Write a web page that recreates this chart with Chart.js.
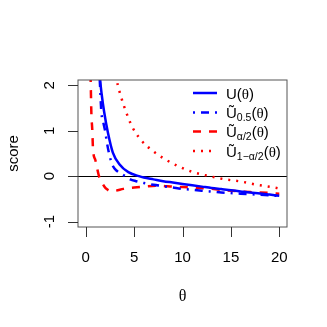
<!DOCTYPE html>
<html>
<head>
<meta charset="utf-8">
<script src="https://cdn.jsdelivr.net/npm/chart.js@4/dist/chart.umd.min.js"></script>
<style>
html,body{margin:0;padding:0;background:#fff;}
canvas{display:block;}
</style>
</head>
<body>
<canvas id="c" width="327" height="327"></canvas>
<script>
// ---- data ----
const thetaU    = [1.3, 1.48, 1.65, 1.9, 2.3, 2.8, 3.5, 4.4, 5.5, 6, 7, 8, 9, 10, 11, 12, 13, 14, 15, 16, 17, 18, 19, 20];
const scoreU    = [2.8, 2.15, 1.8, 1.42, 0.95, 0.52, 0.26, 0.09, 0.0, -0.03, -0.07, -0.11, -0.14, -0.17, -0.20, -0.23, -0.26, -0.285, -0.31, -0.335, -0.36, -0.38, -0.405, -0.43];

const thetaMed  = [1.2, 1.44, 1.61, 1.8, 2.0, 2.23, 2.5, 2.82, 3.2, 3.7, 4.1, 4.6, 5.2, 6, 7, 8, 9, 10, 11, 12, 13, 14, 16, 18, 20];
const scoreMed  = [2.8, 2.15, 1.42, 1.2, 1.0, 0.69, 0.42, 0.22, 0.12, 0.05, 0.0, -0.07, -0.11, -0.15, -0.19, -0.22, -0.25, -0.28, -0.30, -0.32, -0.34, -0.36, -0.385, -0.41, -0.435];

const thetaLow  = [0.45, 0.52, 0.58, 0.68, 0.75, 1.0, 1.17, 1.37, 1.6, 1.9, 2.2, 2.6, 3.1, 3.9, 5, 6, 7.6, 9, 11, 12.5, 14, 15.6, 17, 19, 20];
const scoreLow  = [2.6, 2.0, 1.4, 1.0, 0.6, 0.35, 0.18, 0.0, -0.11, -0.22, -0.29, -0.33, -0.32, -0.28, -0.25, -0.23, -0.21, -0.23, -0.25, -0.27, -0.30, -0.33, -0.35, -0.37, -0.385];

const thetaHigh = [3.0, 3.2, 3.65, 4.16, 4.8, 5.7, 6.9, 8.3, 9.75, 11.1, 12.8, 14.4, 16.1, 17.7, 19.2, 20];
const scoreHigh = [2.4, 2.12, 1.75, 1.42, 1.09, 0.80, 0.56, 0.36, 0.20, 0.09, 0.0, -0.07, -0.12, -0.19, -0.24, -0.27];

const xTicks = [0, 5, 10, 15, 20];
const yTicks = [-1, 0, 1, 2];
const xTickLabels = ["0", "5", "10", "15", "20"];
const yTickLabels = ["-1", "0", "1", "2"];

const BLUE = "#0000FF", RED = "#FF0000";
const LW = 2.5;

function pts(xs, ys) { return xs.map((x, i) => ({x: x, y: ys[i]})); }

const seriesStyles = [
  {color: BLUE, dash: []},
  {color: BLUE, dash: [2, 6, 8, 6]},
  {color: RED,  dash: [8, 8]},
  {color: RED,  dash: [2, 6]}
];

const legendItems = [
  {base: "U", sub: ""},
  {base: "Ũ", sub: "0.5"},
  {base: "Ũ", sub: "α/2"},
  {base: "Ũ", sub: "1−α/2"}
];

const SANS = "'Liberation Sans', Arial, sans-serif";
const SERIF = "'Liberation Serif', 'DejaVu Serif', serif";

const decor = {
  id: 'decor',
  beforeDatasetsDraw(chart) {
    const {ctx, chartArea: a, scales: {y}} = chart;
    ctx.save();
    ctx.strokeStyle = "#000";
    ctx.lineWidth = 1;
    const y0 = Math.round(y.getPixelForValue(0)) + 0.5;
    ctx.beginPath(); ctx.moveTo(a.left, y0); ctx.lineTo(a.right, y0); ctx.stroke();
    ctx.restore();
  },
  afterDraw(chart) {
    const {ctx, chartArea: a, scales: {x, y}} = chart;
    ctx.save();
    // box
    ctx.strokeStyle = "#555";
    ctx.lineWidth = 1;
    ctx.strokeRect(a.left, a.top, a.right - a.left, a.bottom - a.top);
    // ticks
    ctx.strokeStyle = "#333";
    ctx.beginPath();
    xTicks.forEach(v => { const px = Math.round(x.getPixelForValue(v)) + 0.5; ctx.moveTo(px, a.bottom); ctx.lineTo(px, a.bottom + 10); });
    yTicks.forEach(v => { const py = Math.round(y.getPixelForValue(v)) + 0.5; ctx.moveTo(a.left, py); ctx.lineTo(a.left - 10, py); });
    ctx.stroke();
    // tick labels
    ctx.fillStyle = "#000";
    ctx.font = "15px " + SANS;
    ctx.textAlign = "center";
    ctx.textBaseline = "middle";
    xTicks.forEach((v, i) => ctx.fillText(xTickLabels[i], x.getPixelForValue(v), a.bottom + 31));
    yTicks.forEach((v, i) => {
      ctx.save();
      ctx.translate(a.left - 28, y.getPixelForValue(v));
      ctx.rotate(-Math.PI / 2);
      ctx.fillText(yTickLabels[i], 0, 0);
      ctx.restore();
    });
    // axis titles
    ctx.save();
    ctx.translate(14, (a.top + a.bottom) / 2);
    ctx.rotate(-Math.PI / 2);
    ctx.fillText("score", 0, 0);
    ctx.restore();
    ctx.font = "16px " + SERIF;
    ctx.fillText("θ", (a.left + a.right) / 2, a.bottom + 70);

    // legend
    const rowY = [93, 112.5, 131.5, 151];
    const lx0 = 193, lx1 = 217, tx = 226;
    legendItems.forEach((it, i) => {
      const st = seriesStyles[i];
      ctx.strokeStyle = st.color;
      ctx.lineWidth = LW;
      ctx.setLineDash(st.dash);
      ctx.beginPath(); ctx.moveTo(lx0, rowY[i]); ctx.lineTo(lx1, rowY[i]); ctx.stroke();
      ctx.setLineDash([]);
      ctx.textAlign = "left";
      ctx.textBaseline = "alphabetic";
      const base = rowY[i] + 5.5;
      let cx = tx;
      ctx.font = "15px " + SANS;
      ctx.fillText(it.base, cx, base); cx += ctx.measureText(it.base).width;
      if (it.sub) {
        ctx.font = "10.5px " + SANS;
        ctx.fillText(it.sub, cx, base + 3); cx += ctx.measureText(it.sub).width;
      }
      ctx.font = "15px " + SANS;
      ctx.fillText("(", cx, base); cx += ctx.measureText("(").width;
      ctx.font = "15px " + SERIF;
      ctx.fillText("θ", cx, base); cx += ctx.measureText("θ").width;
      ctx.font = "15px " + SANS;
      ctx.fillText(")", cx, base);
    });
    ctx.restore();
  }
};

const datasets = [
  [thetaU, scoreU], [thetaMed, scoreMed], [thetaLow, scoreLow], [thetaHigh, scoreHigh]
].map((d, i) => ({
  data: pts(d[0], d[1]),
  borderColor: seriesStyles[i].color,
  borderDash: seriesStyles[i].dash,
  borderWidth: LW,
  borderCapStyle: 'butt',
  pointRadius: 0,
  showLine: true,
  fill: false,
  cubicInterpolationMode: 'monotone',
  clip: 0
}));

new Chart(document.getElementById('c'), {
  type: 'scatter',
  data: {datasets: datasets},
  options: {
    responsive: false,
    animation: false,
    devicePixelRatio: 1,
    layout: {padding: {left: 78, top: 80, right: 40, bottom: 100}},
    plugins: {legend: {display: false}, tooltip: {enabled: false}},
    scales: {
      x: {type: 'linear', min: -0.8, max: 20.8, display: false},
      y: {type: 'linear', min: -1.12, max: 2.12, display: false}
    }
  },
  plugins: [decor]
});
</script>
</body>
</html>
